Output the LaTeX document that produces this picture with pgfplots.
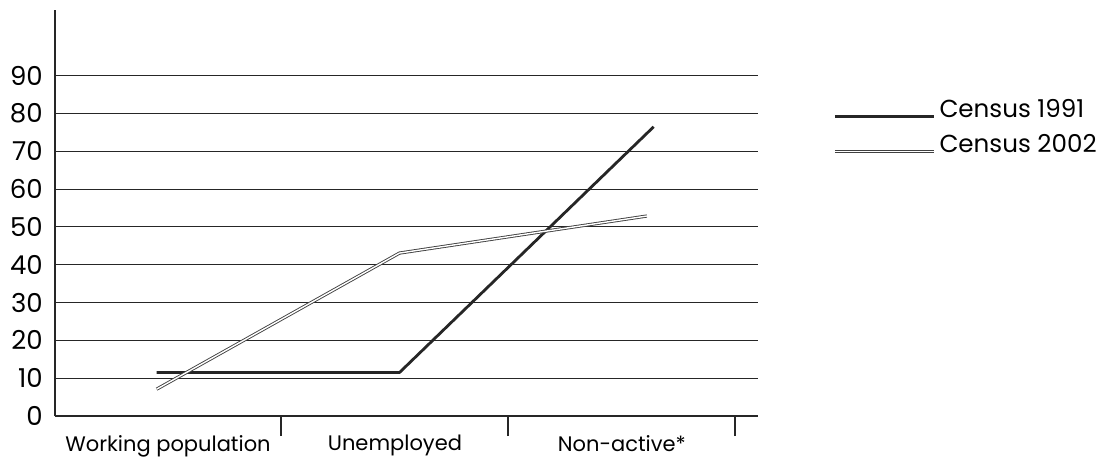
\documentclass[border=0pt]{standalone}
\usepackage{pgfplots}
\pgfplotsset{compat=1.18}
\usepackage{fontspec}
\setmainfont{Poppins}

\begin{document}
\begin{tikzpicture}
\useasboundingbox (0,0) rectangle (552pt,228.5pt);
\begin{axis}[
  at={(27.5pt,20.5pt)}, anchor=south west,
  scale only axis, width=351.5pt, height=203pt,
  xmin=-0.498, xmax=2.6, ymin=0, ymax=107.4,
  axis x line=bottom, axis y line=left,
  axis line style={-, line width=1pt, black!85},
  clip=false,
  ytick={0,10,...,90},
  ytick style={draw=none},
  ymajorgrids, major grid style={line width=0.5pt, black!85},
  yticklabel style={font=\fontsize{13}{15}\selectfont, xshift=2.4pt},
  xtick={0.5,1.5,2.5},
  xticklabels={},
  xtick align=outside,
  major tick length=10pt,
  xtick style={line width=1pt, black!85},
  extra x ticks={0,1,2},
  extra x tick labels={Working population, Unemployed, Non-active*},
  extra x tick style={tick style={draw=none},
    ticklabel style={font=\fontsize{10.5}{12}\selectfont, yshift=4pt}},
  /pgf/number format/assume math mode=true,
  legend style={draw=none, fill=none, at={(axis description cs:1.098,0.80)}, anchor=north west,
    font=\fontsize{12.3}{14}\selectfont, row sep=3pt},
  legend cell align=left,
  legend image code/.code={\draw[#1] (0pt,-0.3em) -- (49.5pt,-0.3em);},
]
\addplot[line width=1.4pt, black!85] coordinates {
  (-0.05,11.5) (1.02,11.5) (2.14,76.5)
};
\addlegendentry{Census 1991}
\addplot[draw=black!75, line width=0.45pt, double=white, double distance=0.7pt] coordinates {
  (-0.05,7.1) (1.02,43.1) (2.11,52.9)
};
\addlegendentry{Census 2002}
\end{axis}
\end{tikzpicture}
\end{document}
